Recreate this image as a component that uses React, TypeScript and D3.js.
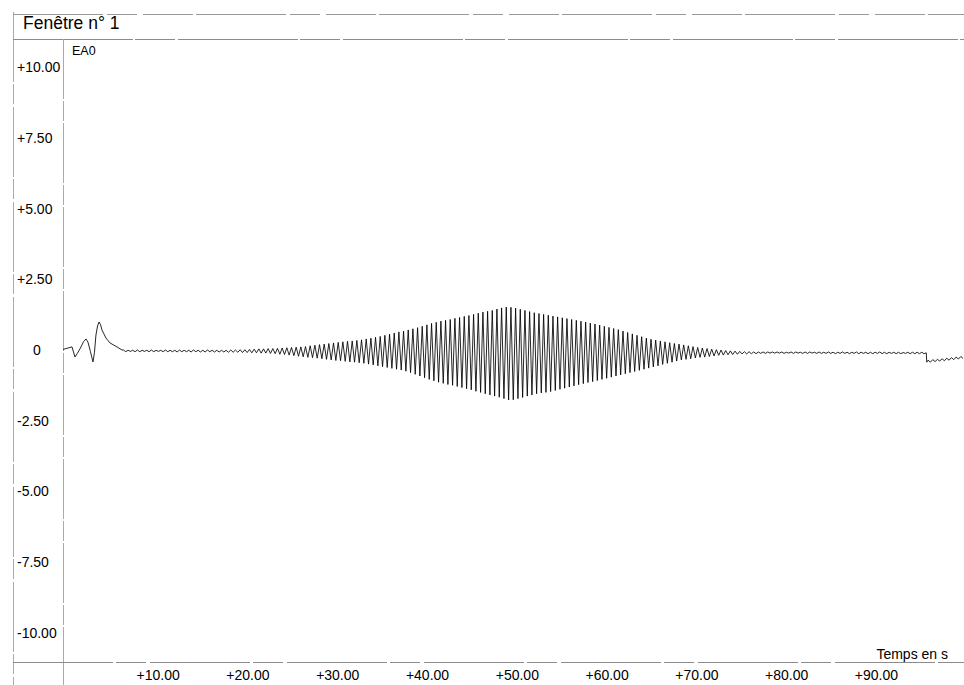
import * as d3 from "d3";

const WIDTH = 964;
const HEIGHT = 685;
const PLOT = { left: 63, right: 964, top: 39, bottom: 661 };
const FONT = "'Liberation Sans', Arial, sans-serif";

// axis ticks
const xTicks = [10, 20, 30, 40, 50, 60, 70, 80, 90];
const yTicks = [10, 7.5, 5, 2.5, 0, -2.5, -5, -7.5, -10];

// transient at the start of the record (time in s, EA0 in V)
const startTimes = [-0.6, -0.04, 0.4, 0.74, 1.0, 1.29, 1.7, 1.96, 2.18, 2.45, 2.74, 2.9, 3.07, 3.25, 3.41, 3.58, 3.74, 4.19, 4.63, 5.41, 5.97];
const startValues = [0.02, 0.07, 0.11, -0.25, -0.12, 0.04, 0.3, 0.39, 0.28, -0.05, -0.42, -0.1, 0.53, 0.85, 0.99, 0.9, 0.71, 0.42, 0.25, 0.11, 0.0];

// oscillation: one max and one min per period
const oscStart = 6.0;
const period = 0.52;
const cycleTops = [
  0.0, -0.01, -0.01, 0.0, -0.01, -0.01, 0.0, -0.01, -0.01, 0.0,
  -0.01, -0.01, 0.0, -0.01, -0.01, 0.0, -0.01, -0.01, 0.0, -0.01,
  -0.01, -0.01, -0.01, 0.0, 0.0, 0.01, 0.01, 0.02, 0.03, 0.04,
  0.04, 0.05, 0.05, 0.06, 0.07, 0.08, 0.09, 0.1, 0.11, 0.12,
  0.15, 0.17, 0.19, 0.21, 0.23, 0.25, 0.27, 0.29, 0.31, 0.32,
  0.34, 0.36, 0.39, 0.42, 0.45, 0.48, 0.52, 0.56, 0.6, 0.64,
  0.67, 0.71, 0.75, 0.79, 0.84, 0.89, 0.94, 0.98, 1.02, 1.05,
  1.08, 1.12, 1.15, 1.19, 1.22, 1.26, 1.3, 1.34, 1.37, 1.4,
  1.45, 1.49, 1.52, 1.51, 1.48, 1.44, 1.4, 1.36, 1.32, 1.29,
  1.26, 1.23, 1.2, 1.17, 1.14, 1.11, 1.08, 1.05, 1.02, 0.99,
  0.95, 0.92, 0.88, 0.84, 0.8, 0.76, 0.72, 0.67, 0.62, 0.57,
  0.52, 0.47, 0.42, 0.38, 0.35, 0.32, 0.29, 0.26, 0.23, 0.21,
  0.18, 0.15, 0.12, 0.09, 0.07, 0.05, 0.03, 0.01, 0.0, -0.02,
  -0.03, -0.04, -0.05, -0.06, -0.06, -0.07, -0.07, -0.07, -0.07, -0.07,
  -0.07, -0.07, -0.08, -0.07, -0.07, -0.08, -0.07, -0.07, -0.08, -0.07,
  -0.08, -0.07, -0.08, -0.08, -0.07, -0.08, -0.08, -0.07, -0.08, -0.08,
  -0.08, -0.08, -0.07, -0.08, -0.08, -0.08, -0.08, -0.09, -0.08, -0.08,
  -0.08, -0.08,
];
const cycleBottoms = [
  -0.06, -0.05, -0.06, -0.06, -0.05, -0.06, -0.06, -0.05, -0.06, -0.06,
  -0.06, -0.07, -0.06, -0.06, -0.07, -0.06, -0.07, -0.07, -0.06, -0.07,
  -0.07, -0.07, -0.08, -0.08, -0.08, -0.09, -0.09, -0.1, -0.1, -0.11,
  -0.11, -0.12, -0.13, -0.15, -0.16, -0.18, -0.2, -0.22, -0.24, -0.26,
  -0.27, -0.29, -0.31, -0.33, -0.35, -0.37, -0.38, -0.4, -0.42, -0.43,
  -0.45, -0.47, -0.5, -0.53, -0.56, -0.59, -0.62, -0.65, -0.68, -0.71,
  -0.75, -0.8, -0.86, -0.92, -0.98, -1.04, -1.09, -1.14, -1.18, -1.22,
  -1.25, -1.29, -1.33, -1.37, -1.41, -1.46, -1.5, -1.55, -1.59, -1.63,
  -1.67, -1.72, -1.77, -1.76, -1.72, -1.68, -1.63, -1.59, -1.55, -1.52,
  -1.5, -1.47, -1.43, -1.39, -1.35, -1.31, -1.27, -1.23, -1.19, -1.15,
  -1.12, -1.08, -1.04, -1.0, -0.96, -0.92, -0.88, -0.84, -0.8, -0.76,
  -0.72, -0.68, -0.64, -0.6, -0.56, -0.51, -0.47, -0.43, -0.39, -0.35,
  -0.33, -0.31, -0.28, -0.26, -0.25, -0.23, -0.21, -0.19, -0.18, -0.17,
  -0.16, -0.15, -0.14, -0.14, -0.13, -0.13, -0.12, -0.12, -0.11, -0.11,
  -0.11, -0.12, -0.11, -0.12, -0.11, -0.12, -0.12, -0.11, -0.12, -0.12,
  -0.12, -0.12, -0.13, -0.12, -0.12, -0.13, -0.12, -0.13, -0.12, -0.13,
  -0.13, -0.12, -0.13, -0.13, -0.12, -0.13, -0.13, -0.12, -0.13, -0.13,
  -0.13, -0.13,
];

// offset step near the end, then a small drift back up
const stepTime = 95.6;
const stepFrom = -0.1;
const endStart = 95.62;
const endTops = [-0.36, -0.34, -0.33, -0.31, -0.29, -0.27, -0.25, -0.23];
const endBottoms = [-0.43, -0.41, -0.39, -0.38, -0.36, -0.34, -0.32, -0.3];

const fmt = (d: number) => (d > 0 ? "+" : d < 0 ? "-" : "") + (d === 0 ? "0" : Math.abs(d).toFixed(2));

export default function App() {
  const xScale = d3.scaleLinear().domain([-0.6, 99.75]).range([PLOT.left, PLOT.right]);
  const yScale = d3.scaleLinear().domain([-11, 11]).range([PLOT.bottom, PLOT.top]);

  // assemble the trace
  const pts: [number, number][] = startTimes.map((t, i) => [t, startValues[i]]);
  cycleTops.forEach((top, i) => {
    pts.push([oscStart + period * i + period / 4, top]);
    pts.push([oscStart + period * i + (3 * period) / 4, cycleBottoms[i]]);
  });
  pts.push([stepTime - 0.05, stepFrom]);
  pts.push([stepTime, endBottoms[0]]);
  endTops.forEach((top, i) => {
    pts.push([endStart + period * i + period / 4, top]);
    pts.push([endStart + period * i + (3 * period) / 4, endBottoms[i]]);
  });

  const line = d3
    .line<[number, number]>()
    .x((d) => xScale(d[0]))
    .y((d) => yScale(d[1]));

  const frame = "#8c8c8c";

  return (
    <svg
      width={WIDTH}
      height={HEIGHT}
      style={{ position: "absolute", left: 0, top: 0, background: "#fff", display: "block" }}
      fontFamily={FONT}
    >
      <defs>
        <clipPath id="plot">
          <rect x={PLOT.left} y={PLOT.top} width={PLOT.right - PLOT.left} height={PLOT.bottom - PLOT.top} />
        </clipPath>
      </defs>

      {/* window frame */}
      <line x1={13.5} x2={13.5} y1={12} y2={HEIGHT} stroke="#aaa" strokeDasharray="70 2 20 3" />
      <line x1={13} x2={WIDTH} y1={14.5} y2={14.5} stroke="#999" strokeDasharray="90 4 30 6 50 3" />
      <line x1={13} x2={WIDTH} y1={PLOT.top + 0.5} y2={PLOT.top + 0.5} stroke={frame} strokeDasharray="120 2 40 3" />
      <text x={23} y={29} fontSize={17.5} fill="#000">
        Fenêtre n° 1
      </text>

      {/* axes */}
      <line x1={PLOT.left + 0.5} x2={PLOT.left + 0.5} y1={PLOT.top} y2={HEIGHT} stroke="#aaa" strokeDasharray="60 2 20 2" />
      <line x1={13} x2={WIDTH} y1={PLOT.bottom + 1.5} y2={PLOT.bottom + 1.5} stroke={frame} strokeDasharray="100 3 30 4" />

      <text x={72} y={55} fontSize={12.5} fill="#000">
        EA0
      </text>

      {yTicks.map((d) => (
        <text
          key={d}
          x={d === 0 ? 37 : 17}
          y={yScale(d) + 5}
          fontSize={14}
          textAnchor={d === 0 ? "middle" : "start"}
          fill="#000"
        >
          {fmt(d)}
        </text>
      ))}

      {xTicks.map((d) => (
        <text key={d} x={xScale(d)} y={680} fontSize={14} textAnchor="middle" fill="#000">
          {fmt(d)}
        </text>
      ))}

      <text x={948} y={659} fontSize={14} textAnchor="end" fill="#000">
        Temps en s
      </text>

      {/* signal */}
      <path d={line(pts) ?? ""} fill="none" stroke="#000" strokeWidth={0.85} clipPath="url(#plot)" />
    </svg>
  );
}
